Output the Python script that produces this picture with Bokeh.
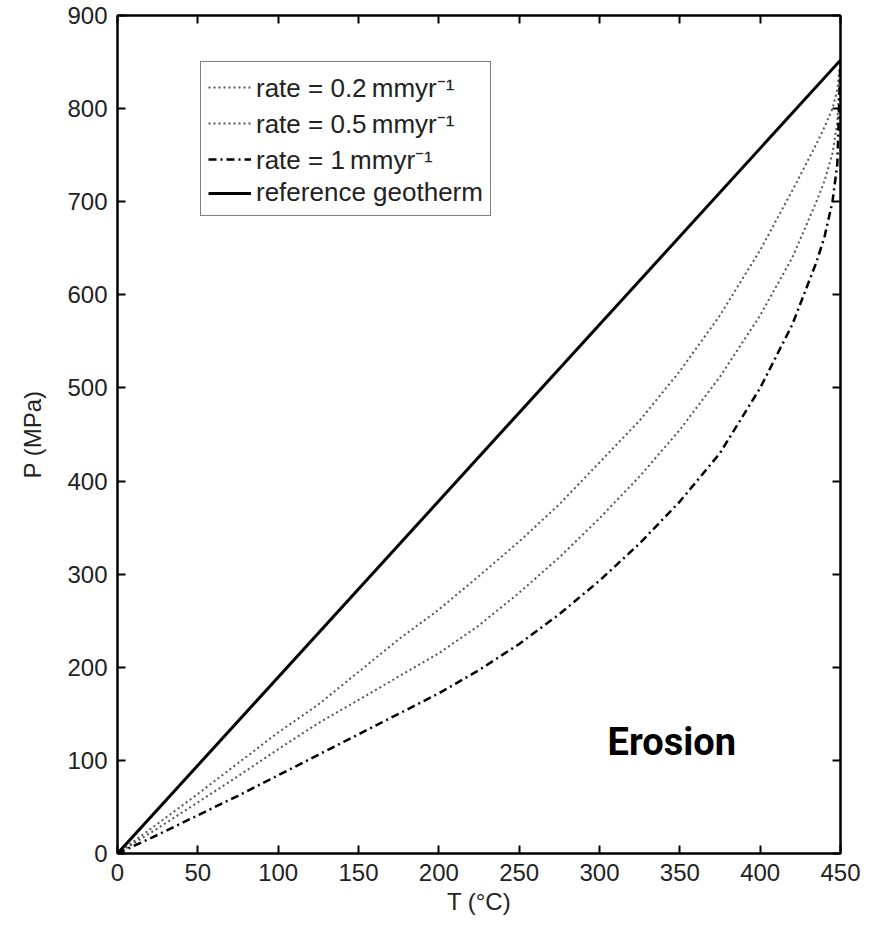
from bokeh.plotting import figure
from bokeh.models import (LinearAxis, Range1d, FixedTicker, Legend, LegendItem, Label)
from bokeh.embed import file_html
from bokeh.resources import INLINE

# ---- data ----
T_curve = [0, 25, 50, 75, 100, 125, 150, 175, 200, 225, 250, 275, 300, 325, 350,
           375, 400, 420, 435, 440, 445, 448, 450]
P_rate02 = [0, 32, 64, 97, 130, 160, 195, 230, 262, 298, 335, 375, 420, 465, 518,
            578, 648, 712, 762, 780, 800, 820, 852]
P_rate05 = [0, 27, 55, 83, 112, 140, 165, 190, 215, 245, 280, 318, 360, 405, 455,
            512, 578, 640, 700, 722, 752, 785, 852]
P_rate1 = [0, 20, 41, 62, 84, 106, 128, 150, 172, 197, 225, 257, 293, 333, 378,
           430, 500, 568, 635, 662, 700, 740, 852]
T_ref = [0, 450]
P_ref = [0, 852]

x_ticks = [0, 50, 100, 150, 200, 250, 300, 350, 400, 450]
y_ticks = [0, 100, 200, 300, 400, 500, 600, 700, 800, 900]

labels = ["rate = 0.2\u2009mmyr\u207b\u00b9",
          "rate = 0.5\u2009mmyr\u207b\u00b9",
          "rate = 1\u2009mmyr\u207b\u00b9",
          "reference geotherm"]

FONT = "Liberation Sans"

p = figure(width=861, height=917, output_backend="svg", toolbar_location=None,
           x_range=Range1d(0, 450), y_range=Range1d(0, 900),
           min_border_left=117, min_border_right=21, min_border_top=15,
           min_border_bottom=62, x_axis_location=None, y_axis_location=None)
p.xgrid.visible = False
p.ygrid.visible = False
p.outline_line_color = "black"
p.outline_line_width = 2
p.background_fill_color = "white"
p.border_fill_color = "white"


def style_axis(ax, ticks, show_labels):
    ax.ticker = FixedTicker(ticks=ticks)
    ax.minor_tick_line_color = None
    ax.major_tick_in = 8
    ax.major_tick_out = 0
    ax.major_tick_line_width = 2
    ax.axis_line_width = 2
    ax.axis_line_color = "black"
    ax.major_tick_line_color = "black"
    if show_labels:
        ax.major_label_text_font = FONT
        ax.major_label_text_font_size = "24px"
        ax.major_label_text_color = "#222222"
        ax.major_label_standoff = 10
        ax.axis_label_text_font = FONT
        ax.axis_label_text_font_size = "24px"
        ax.axis_label_text_font_style = "normal"
        ax.axis_label_text_color = "#222222"
    else:
        ax.major_label_text_font_size = "0px"
        ax.major_label_standoff = 0
        ax.major_label_text_alpha = 0


xb = LinearAxis(axis_label="T (\u00b0C)"); style_axis(xb, x_ticks, True)
xb.axis_label_standoff = 4
p.add_layout(xb, "below")
yl = LinearAxis(axis_label="P (MPa)"); style_axis(yl, y_ticks, True)
yl.axis_label_standoff = 18
p.add_layout(yl, "left")
xt = LinearAxis(); style_axis(xt, x_ticks, False); p.add_layout(xt, "above")
yr = LinearAxis(); style_axis(yr, y_ticks, False); p.add_layout(yr, "right")

r02 = p.line(T_curve, P_rate02, line_color="#555555", line_width=2, line_dash="2 3")
r05 = p.line(T_curve, P_rate05, line_color="#555555", line_width=2, line_dash="2 3")
r1 = p.line(T_curve, P_rate1, line_color="black", line_width=2.5, line_dash="8 4 2 4")
rref = p.line(T_ref, P_ref, line_color="black", line_width=3)

legend = Legend(items=[LegendItem(label=labels[0], renderers=[r02]),
                       LegendItem(label=labels[1], renderers=[r05]),
                       LegendItem(label=labels[2], renderers=[r1]),
                       LegendItem(label=labels[3], renderers=[rref])],
                location=(83, 637))
legend.label_text_font = FONT
legend.label_text_font_size = "26px"
legend.label_text_color = "#222222"
legend.glyph_width = 43
legend.glyph_height = 24
legend.label_height = 24
legend.label_standoff = 5
legend.spacing = 0
legend.padding = 7
legend.margin = 0
legend.border_line_color = "black"
legend.border_line_width = 1.5
legend.background_fill_alpha = 1
p.add_layout(legend, "center")

p.add_layout(Label(x=305, y=120, text="Erosion", text_font="Roboto", text_font_size="38px",
                   text_font_style="bold", text_align="left", text_baseline="alphabetic",
                   text_color="black"))

open("out.html", "w").write(file_html(p, INLINE))
